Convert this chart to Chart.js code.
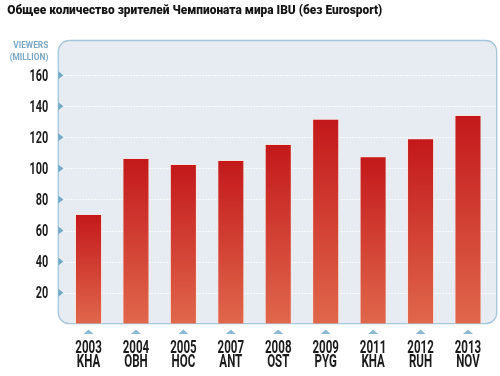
<!DOCTYPE html>
<html>
<head>
<meta charset="utf-8">
<script src="https://cdn.jsdelivr.net/npm/chart.js@4"></script>
<style>
    body { margin: 0; background: #fff; }
</style>
</head>
<body>
<canvas id="grafico" width="500" height="376"></canvas>
<script>
const titulo = "Общее количество зрителей Чемпионата мира IBU (без Eurosport)";
const unidade = ["VIEWERS", "(MILLION)"];
const anos = ["2003", "2004", "2005", "2007", "2008", "2009", "2011", "2012", "2013"];
const locais = ["KHA", "OBH", "HOC", "ANT", "OST", "PYG", "KHA", "RUH", "NOV"];
const espectadores = [70.6, 106.7, 102.8, 105.4, 115.8, 132, 107.8, 119.4, 134.4];
const ticksY = [20, 40, 60, 80, 100, 120, 140, 160];

const FONTE = 'Roboto, "Liberation Sans", sans-serif';

// texto "condensado": escala horizontal
function textoEstreito(ctx, txt, x, y, align, escala) {
    const w = ctx.measureText(txt).width * escala;
    let x0 = x;
    if (align === "right") x0 = x - w;
    if (align === "center") x0 = x - w / 2;
    ctx.save();
    ctx.translate(x0, y);
    ctx.scale(escala, 1);
    ctx.textAlign = "left";
    ctx.fillText(txt, 0, 0);
    ctx.restore();
}

/* ===========================
   PAINEL DE FUNDO
=========================== */
const painelPlugin = {
    id: "painel",
    beforeDatasetsDraw(chart) {
        const { ctx, chartArea, scales } = chart;
        const x0 = chartArea.left - 6.5, x1 = chartArea.right + 5;
        const y0 = 40.5, y1 = chartArea.bottom;

        ctx.save();
        ctx.beginPath();
        ctx.roundRect(x0, y0, x1 - x0, y1 - y0, 11);
        ctx.fillStyle = "#e6ecf2";
        ctx.fill();
        ctx.lineWidth = 1.3;
        ctx.strokeStyle = "#a6c6da";
        ctx.stroke();

        // linhas pontilhadas
        ctx.setLineDash([1.5, 1.5]);
        ctx.strokeStyle = "#ffffff";
        ctx.lineWidth = 1;
        ticksY.forEach(v => {
            const y = Math.round(scales.y.getPixelForValue(v)) + 0.5;
            ctx.beginPath();
            ctx.moveTo(x0 + 6, y);
            ctx.lineTo(x1 - 2, y);
            ctx.stroke();
        });
        ctx.setLineDash([]);

        // setas
        ctx.fillStyle = "#72a9c7";
        ticksY.forEach(v => {
            const y = scales.y.getPixelForValue(v);
            ctx.beginPath();
            ctx.moveTo(x0, y - 4);
            ctx.lineTo(x0 + 5, y);
            ctx.lineTo(x0, y + 4);
            ctx.closePath();
            ctx.fill();
        });
        ctx.fillStyle = "#8cbad3";
        anos.forEach((a, i) => {
            const x = scales.x.getPixelForValue(i);
            ctx.beginPath();
            ctx.moveTo(x - 5, 334);
            ctx.lineTo(x, 329.5);
            ctx.lineTo(x + 5, 334);
            ctx.closePath();
            ctx.fill();
        });
        ctx.restore();
    },
    afterDraw(chart) {
        const { ctx, scales } = chart;
        ctx.save();
        ctx.textBaseline = "alphabetic";

        // titulo
        ctx.fillStyle = "#151515";
        ctx.font = `900 13.5px ${FONTE}`;
        const wt = ctx.measureText(titulo).width;
        textoEstreito(ctx, titulo, 7.3, 13.5, "left", 375 / wt);

        // unidade
        ctx.fillStyle = "#7aa8c6";
        ctx.font = `bold 9px ${FONTE}`;
        let wu = ctx.measureText(unidade[0]).width;
        textoEstreito(ctx, unidade[0], 48.3, 47.5, "right", 35 / wu);
        textoEstreito(ctx, unidade[1], 48.3, 60, "right", 35 / wu);

        // rotulos do eixo y
        ctx.fillStyle = "#1b1b1b";
        ctx.font = `bold 16.5px ${FONTE}`;
        ticksY.forEach(v => {
            const y = scales.y.getPixelForValue(v) + 5.8;
            textoEstreito(ctx, String(v), 48.3, y, "right", 0.66);
        });

        // rotulos do eixo x
        ctx.font = `bold 17.5px ${FONTE}`;
        anos.forEach((a, i) => {
            const x = scales.x.getPixelForValue(i);
            textoEstreito(ctx, a, x, 353.3, "center", 0.66);
            textoEstreito(ctx, locais[i], x, 367, "center", 0.66);
        });
        ctx.restore();
    }
};

function corBarra(context) {
    const { ctx, chartArea, scales } = context.chart;
    if (!chartArea) return "#cf3a2c";
    const topo = scales.y.getPixelForValue(context.raw);
    const g = ctx.createLinearGradient(0, topo, 0, chartArea.bottom);
    g.addColorStop(0, "#c3181b");
    g.addColorStop(1, "#e0674b");
    return g;
}

/* ===========================
   GRAFICO
=========================== */
new Chart(document.getElementById("grafico"), {
    type: "bar",
    data: {
        labels: anos.map((a, i) => a + " " + locais[i]),
        datasets: [{
            data: espectadores,
            backgroundColor: corBarra,
            borderColor: "rgba(255,225,215,0.75)",
            borderWidth: { top: 1, left: 1, right: 1, bottom: 0 },
            barPercentage: 0.57,
            categoryPercentage: 1
        }]
    },
    options: {
        responsive: false,
        animation: false,
        layout: { padding: { top: 44.2, right: 8.3, bottom: 0, left: 0 } },
        plugins: {
            legend: { display: false },
            tooltip: { enabled: false }
        },
        scales: {
            x: {
                grid: { display: false },
                border: { display: false },
                ticks: { display: false },
                afterFit(scale) { scale.height = 52.3; }
            },
            y: {
                min: 0,
                max: 180,
                grid: { display: false, drawTicks: false },
                border: { display: false },
                ticks: { display: false, stepSize: 20 },
                afterFit(scale) { scale.width = 64.8; }
            }
        }
    },
    plugins: [painelPlugin]
});
</script>
</body>
</html>
